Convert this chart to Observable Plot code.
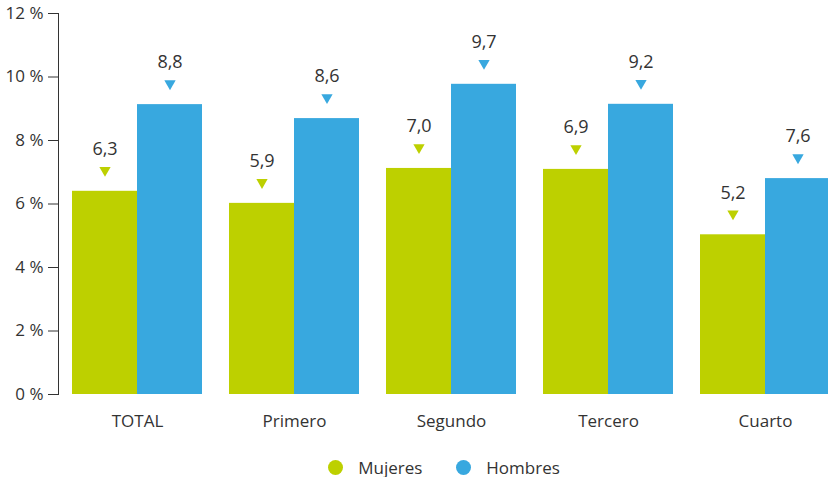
<!DOCTYPE html>
<html>
<head>
<meta charset="utf-8">
<script src="https://cdn.jsdelivr.net/npm/d3@7"></script>
<script src="https://cdn.jsdelivr.net/npm/@observablehq/plot@0.6"></script>
<style>
  body { margin: 0; background: #fff; font-family: "Open Sans", Lato, sans-serif; overflow: hidden; }
  #legend { display: flex; justify-content: center; align-items: center; height: 44px; padding-left: 60px; color: #333; font-size: 17px; line-height: 1; }
  .item { display: flex; align-items: center; margin: 0 17px; line-height: 1; }
  .sw { width: 15px; height: 15px; border-radius: 50%; margin-right: 15px; }
</style>
</head>
<body>
<div id="chart"></div>
<div id="legend"></div>
<script>
const categories = ["TOTAL", "Primero", "Segundo", "Tercero", "Cuarto"];
const series = ["Mujeres", "Hombres"];
const mujeres = [6.40, 6.02, 7.12, 7.09, 5.03];
const hombres = [9.13, 8.69, 9.77, 9.14, 6.80];
const mujeresLabels = ["6,3", "5,9", "7,0", "6,9", "5,2"];
const hombresLabels = ["8,8", "8,6", "9,7", "9,2", "7,6"];
const yTicks = [0, 2, 4, 6, 8, 10, 12];
const colors = ["#bdd000", "#38a8df"];

const rowsM = categories.map((c, i) => ({cat: c, value: mujeres[i], label: mujeresLabels[i]}));
const rowsH = categories.map((c, i) => ({cat: c, value: hombres[i], label: hombresLabels[i]}));

const half = 32.5;
const chart = Plot.plot({
  width: 828,
  height: 445,
  marginLeft: 58,
  marginRight: 0,
  marginTop: 13,
  marginBottom: 51,
  style: {fontFamily: "'Open Sans', Lato, sans-serif", fontSize: "17px", color: "#333", background: "#fff"},
  x: {domain: categories, range: [72, 830], paddingInner: 0.172, paddingOuter: 0, label: null},
  y: {domain: [0, 12], label: null},
  marks: [
    Plot.barY(rowsM, {x: "cat", y: "value", fill: colors[0], insetRight: 65, insetLeft: 0}),
    Plot.barY(rowsH, {x: "cat", y: "value", fill: colors[1], insetLeft: 65, insetRight: 0}),
    Plot.dot(rowsM, {x: "cat", y: "value", dx: -half, dy: -21, symbol: "triangle", rotate: 180, r: 4.2, fill: colors[0], stroke: null}),
    Plot.dot(rowsH, {x: "cat", y: "value", dx: half, dy: -21, symbol: "triangle", rotate: 180, r: 4.2, fill: colors[1], stroke: null}),
    Plot.text(rowsM, {x: "cat", y: "value", text: "label", dx: -half, dy: -42, fontSize: 18, fill: "#333"}),
    Plot.text(rowsH, {x: "cat", y: "value", text: "label", dx: half, dy: -42, fontSize: 18, fill: "#333"}),
    Plot.axisY({ticks: yTicks, tickFormat: d => d + " %", tickSize: 10, tickPadding: 5, fontSize: 17, stroke: "#333", strokeOpacity: 1, fill: "#333"}),
    Plot.frame({anchor: "left", stroke: "#333", strokeWidth: 1}),
    Plot.axisX({tickSize: 0, tickPadding: 20, fontSize: 17, fill: "#333"})
  ]
});
document.getElementById("chart").appendChild(chart);

const legend = document.getElementById("legend");
series.forEach((s, i) => {
  const item = document.createElement("div");
  item.className = "item";
  const sw = document.createElement("span");
  sw.className = "sw";
  sw.style.background = colors[i];
  const t = document.createElement("span");
  t.textContent = s;
  item.appendChild(sw);
  item.appendChild(t);
  legend.appendChild(item);
});
</script>
</body>
</html>
